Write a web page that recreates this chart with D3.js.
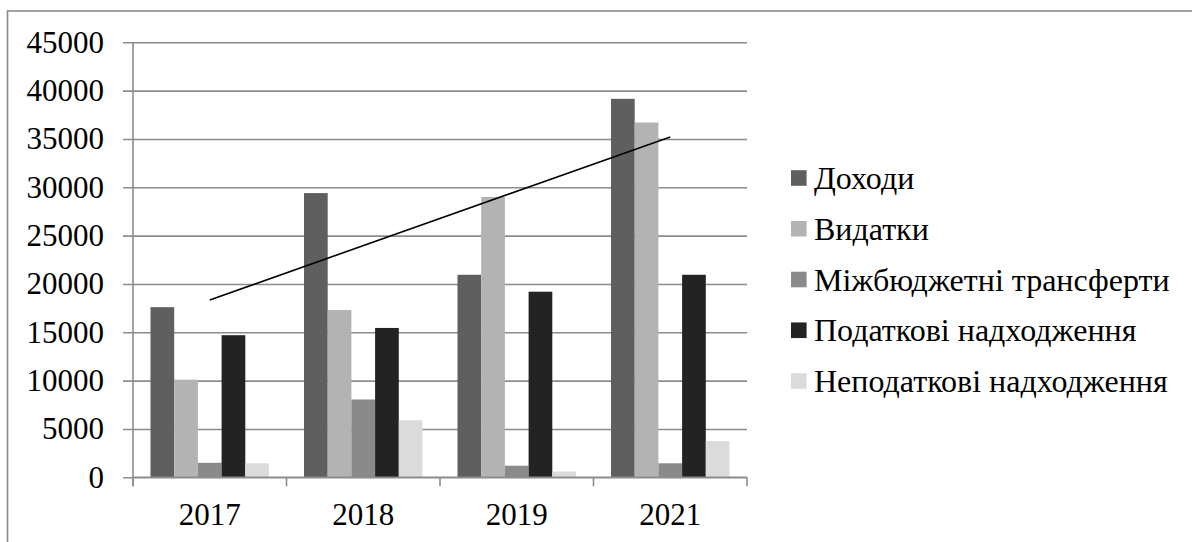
<!DOCTYPE html>
<html>
<head>
<meta charset="utf-8">
<script src="https://cdn.jsdelivr.net/npm/d3@7/dist/d3.min.js"></script>
<style>
  html, body { margin: 0; padding: 0; background: #fff; }
  svg { display: block; }
</style>
</head>
<body>
<svg id="chart" width="1192" height="542" font-family="Liberation Serif"></svg>
<script>
// Budget indicators by year
const years = ["2017", "2018", "2019", "2021"];
const seriesNames = ["Доходи", "Видатки", "Міжбюджетні трансферти", "Податкові надходження", "Неподаткові надходження"];
const dokhody      = [17600, 29400, 20950, 39150];
const vydatky      = [10100, 17300, 29000, 36700];
const transferty   = [1500, 8050, 1200, 1450];
const podatkovi    = [14700, 15450, 19200, 20950];
const nepodatkovi  = [1450, 5900, 600, 3750];
const yTicks = [0, 5000, 10000, 15000, 20000, 25000, 30000, 35000, 40000, 45000];

const seriesValues = [dokhody, vydatky, transferty, podatkovi, nepodatkovi];
const colors = ["#5f5f5f", "#b3b3b3", "#8a8a8a", "#232323", "#dbdbdb"];

const FONT = "Liberation Serif";
const svg = d3.select("#chart");
const W = 1192, H = 542;

// outer frame (runs off the right and bottom edges)
svg.append("rect")
  .attr("x", 7.5).attr("y", 11)
  .attr("width", W + 20).attr("height", H + 20)
  .attr("fill", "none").attr("stroke", "#8a8a8a").attr("stroke-width", 1.6);

const plot = { left: 133, right: 747, top: 42.3, bottom: 477.3 };

const x0 = d3.scaleBand()
  .domain(years)
  .range([plot.left, plot.right])
  .paddingInner(0.228)
  .paddingOuter(0.114);

const x1 = d3.scaleBand()
  .domain(d3.range(seriesNames.length))
  .range([0, x0.bandwidth()]);

const y = d3.scaleLinear()
  .domain([0, 45000])
  .range([plot.bottom, plot.top]);

// horizontal gridlines with tick labels
const yAxis = d3.axisLeft(y)
  .tickValues(yTicks)
  .tickSize(0)
  .tickPadding(29)
  .tickFormat(d3.format("d"));

const gy = svg.append("g")
  .attr("transform", `translate(${plot.left},0)`)
  .call(yAxis)
  .attr("font-family", FONT)
  .attr("font-size", 31);
gy.select(".domain").remove();
gy.selectAll(".tick line")
  .attr("x1", -10)
  .attr("x2", plot.right - plot.left)
  .attr("stroke", "#8c8c8c").attr("stroke-width", 1.6);
gy.selectAll(".tick text")
  .attr("font-family", FONT)
  .attr("fill", "#000");

// vertical axis line
svg.append("line")
  .attr("x1", plot.left).attr("x2", plot.left)
  .attr("y1", plot.top).attr("y2", plot.bottom + 9)
  .attr("stroke", "#8c8c8c").attr("stroke-width", 1.6);

// bars
const groups = svg.append("g").selectAll("g")
  .data(years)
  .join("g")
  .attr("transform", d => `translate(${x0(d)},0)`);

groups.selectAll("rect")
  .data((yr, i) => seriesValues.map((vals, s) => ({ s, v: vals[i] })))
  .join("rect")
  .attr("x", d => x1(d.s))
  .attr("width", x1.bandwidth())
  .attr("y", d => y(d.v))
  .attr("height", d => y(0) - y(d.v))
  .attr("fill", d => colors[d.s]);

// category axis
const step = x0.step();
const xAxisG = svg.append("g");
xAxisG.append("line")
  .attr("x1", plot.left).attr("x2", plot.right)
  .attr("y1", plot.bottom).attr("y2", plot.bottom)
  .attr("stroke", "#8c8c8c").attr("stroke-width", 1.6);
const boundaries = d3.range(years.length + 1).map(i => plot.left + i * step);
xAxisG.selectAll("line.tk")
  .data(boundaries)
  .join("line")
  .attr("class", "tk")
  .attr("x1", d => d).attr("x2", d => d)
  .attr("y1", plot.bottom).attr("y2", plot.bottom + 9)
  .attr("stroke", "#8c8c8c").attr("stroke-width", 1.6);
xAxisG.selectAll("text")
  .data(years)
  .join("text")
  .attr("x", d => x0(d) + x0.bandwidth() / 2)
  .attr("y", 525)
  .attr("text-anchor", "middle")
  .attr("font-family", FONT)
  .attr("font-size", 31)
  .text(d => d);

// linear trend of revenues (least squares over category index)
const idx = years.map((_, i) => i + 1);
const mx = d3.mean(idx), my = d3.mean(dokhody);
const slope = d3.sum(idx, (xi, i) => (xi - mx) * (dokhody[i] - my)) / d3.sum(idx, xi => (xi - mx) ** 2);
const intercept = my - slope * mx;
const trend = years.map((yr, i) => [x0(yr) + x0.bandwidth() / 2, y(intercept + slope * idx[i])]);
svg.append("path")
  .attr("d", d3.line()([trend[0], trend[trend.length - 1]]))
  .attr("stroke", "#000").attr("stroke-width", 1.6).attr("fill", "none");

// legend
const legend = svg.append("g");
const rowY = d3.scaleLinear().domain([0, 4]).range([178, 381]);
const items = legend.selectAll("g")
  .data(seriesNames)
  .join("g")
  .attr("transform", (d, i) => `translate(791,${rowY(i)})`);
items.append("rect")
  .attr("x", 0).attr("y", -7.8)
  .attr("width", 15.6).attr("height", 15.6)
  .attr("fill", (d, i) => colors[i]);
items.append("text")
  .attr("x", 23)
  .attr("y", 11)
  .attr("font-family", FONT)
  .attr("font-size", 32)
  .text(d => d);
</script>
</body>
</html>
